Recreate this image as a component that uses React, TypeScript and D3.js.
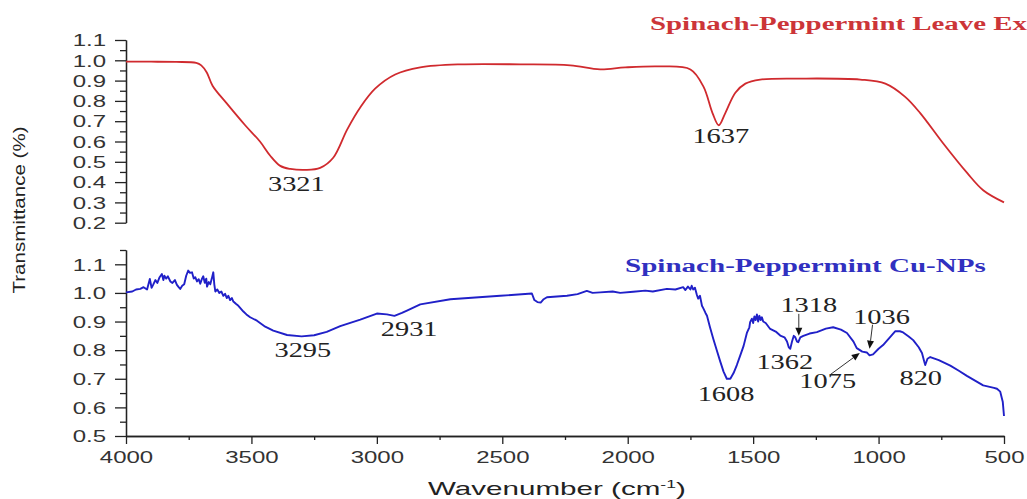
import * as d3 from "d3";
import { useEffect, useRef } from "react";

// red: Spinach-Peppermint leave extract
const redWn = [4000, 3900, 3800, 3720, 3700, 3678, 3655, 3600, 3525, 3466, 3425, 3385, 3345, 3285, 3226, 3174, 3118, 3065, 3007, 2927, 2827, 2667, 2428, 2229, 2110, 2010, 1870, 1750, 1698, 1662, 1637, 1611, 1571, 1531, 1472, 1312, 1073, 973, 894, 834, 742, 647, 583, 500];
const redT = [0.993, 0.993, 0.992, 0.987, 0.975, 0.94, 0.875, 0.79, 0.68, 0.6, 0.53, 0.48, 0.465, 0.46, 0.47, 0.52, 0.66, 0.77, 0.86, 0.93, 0.965, 0.98, 0.98, 0.975, 0.955, 0.965, 0.97, 0.955, 0.87, 0.74, 0.68, 0.74, 0.84, 0.885, 0.905, 0.91, 0.905, 0.885, 0.82, 0.74, 0.59, 0.445, 0.36, 0.3];

// blue: Spinach-Peppermint Cu-NPs
const blueWn = [4000, 3975, 3960, 3943, 3930, 3916, 3905, 3898, 3891, 3883, 3875, 3866, 3857, 3851, 3847, 3840, 3833, 3823, 3815, 3805, 3797, 3790, 3784, 3776, 3768, 3760, 3752, 3745, 3737, 3730, 3724, 3717, 3710, 3704, 3697, 3692, 3686, 3680, 3677, 3670, 3664, 3658, 3652, 3648, 3644, 3636, 3628, 3620, 3612, 3605, 3598, 3592, 3585, 3578, 3572, 3562, 3552, 3545, 3532, 3520, 3505, 3478, 3445, 3413, 3358, 3300, 3250, 3200, 3146, 3066, 3000, 2960, 2930, 2900, 2880, 2827, 2707, 2508, 2382, 2372, 2360, 2347, 2335, 2322, 2242, 2200, 2163, 2140, 2110, 2060, 2030, 1978, 1930, 1900, 1844, 1810, 1779, 1770, 1760, 1750, 1745, 1739, 1732, 1725, 1719, 1712, 1704, 1698, 1690, 1684, 1672, 1659, 1645, 1631, 1618, 1605, 1591, 1578, 1565, 1552, 1538, 1525, 1515, 1512, 1505, 1500, 1495, 1490, 1485, 1480, 1475, 1470, 1465, 1460, 1450, 1432, 1410, 1392, 1375, 1365, 1358, 1352, 1345, 1338, 1332, 1325, 1320, 1312, 1300, 1275, 1246, 1210, 1181, 1150, 1126, 1100, 1087, 1065, 1047, 1036, 1022, 1000, 982, 955, 934, 915, 902, 880, 862, 840, 827, 818, 814, 805, 794, 760, 714, 680, 648, 583, 540, 528, 515, 505, 500];
const blueT = [1.002, 1.005, 1.012, 1.014, 1.02, 1.012, 1.049, 1.018, 1.03, 1.045, 1.035, 1.055, 1.066, 1.045, 1.06, 1.05, 1.058, 1.04, 1.035, 1.045, 1.028, 1.02, 1.014, 1.025, 1.03, 1.06, 1.078, 1.07, 1.072, 1.05, 1.055, 1.04, 1.048, 1.032, 1.05, 1.058, 1.035, 1.05, 1.022, 1.038, 1.03, 1.05, 1.072, 1.03, 1.005, 1.012, 1.0, 1.005, 0.99, 0.997, 0.982, 0.99, 0.975, 0.982, 0.97, 0.962, 0.955, 0.948, 0.935, 0.925, 0.915, 0.903, 0.882, 0.868, 0.853, 0.848, 0.852, 0.864, 0.884, 0.907, 0.928, 0.925, 0.92, 0.93, 0.938, 0.96, 0.978, 0.99, 0.998, 0.975, 0.968, 0.966, 0.978, 0.985, 0.99, 0.996, 1.007, 1.0, 1.002, 1.005, 1.0, 1.004, 1.008, 1.005, 1.014, 1.012, 1.02, 1.01, 1.022, 1.012, 1.025, 1.012, 1.018, 0.995, 0.98, 0.99, 0.955, 0.945, 0.93, 0.92, 0.88, 0.84, 0.8, 0.76, 0.725, 0.7, 0.7, 0.72, 0.748, 0.78, 0.815, 0.86, 0.88, 0.898, 0.91, 0.895, 0.918, 0.905, 0.925, 0.9, 0.92, 0.905, 0.915, 0.9, 0.895, 0.874, 0.865, 0.851, 0.845, 0.83, 0.81, 0.805, 0.83, 0.85, 0.845, 0.83, 0.828, 0.845, 0.85, 0.858, 0.863, 0.875, 0.88, 0.872, 0.86, 0.83, 0.807, 0.795, 0.792, 0.782, 0.785, 0.805, 0.818, 0.845, 0.866, 0.866, 0.862, 0.848, 0.835, 0.81, 0.79, 0.76, 0.748, 0.77, 0.776, 0.765, 0.746, 0.728, 0.71, 0.677, 0.668, 0.665, 0.655, 0.62, 0.57];

const xTicks = [4000, 3500, 3000, 2500, 2000, 1500, 1000, 500];
const xMinor = [3750, 3250, 2750, 2250, 1750, 1250, 750];
const topTicks = [0.2, 0.3, 0.4, 0.5, 0.6, 0.7, 0.8, 0.9, 1.0, 1.1];
const topMinor = [0.25, 0.35, 0.45, 0.55, 0.65, 0.75, 0.85, 0.95, 1.05];
const botTicks = [0.5, 0.6, 0.7, 0.8, 0.9, 1.0, 1.1];
const botMinor = [0.55, 0.65, 0.75, 0.85, 0.95, 1.05, 1.15];

// peak labels: [text, wavenumber, anchor value, dx, dy]
const redLabels: [string, number, number, number, number][] = [
  ["3321", 3321, 0.46, 0, 21],
  ["1637", 1637, 0.68, 2, 18],
];
const blueLabels: [string, number, number, number, number][] = [
  ["3295", 3295, 0.848, 0, 21],
  ["2931", 2931, 0.92, 15, 20],
  ["1608", 1608, 0.7, 0, 22],
  ["1362", 1362, 0.805, -3, 20],
  ["820", 820, 0.748, -3, 20],
  ["1318", 1318, 0.935, 10, 0],
  ["1036", 1036, 0.89, 12, 0],
  ["1075", 1075, 0.74, -32, 21],
];
// arrows: [wavenumber, tip value, tail dx, tail dy]
const blueArrows: [number, number, number, number][] = [
  [1318, 0.85, 0, -22],
  [1036, 0.805, 3, -24],
  [1075, 0.79, -30, 22],
];

const W = 1027;
const H = 499;
const SX = 1.5;

const App = () => {
  const svgRef = useRef(null);

  useEffect(() => {
    const svg = d3.select(svgRef.current);
    svg.selectAll("*").remove();

    const x = d3.scaleLinear().domain([4000, 500]).range([126, 1004]);
    const yTop = d3.scaleLinear().domain([0.2, 1.1]).range([222.7, 40]);
    const yBot = d3.scaleLinear().domain([0.5, 1.15]).range([436, 250]);

    const axisColor = "#222";
    const sans = "Liberation Sans, Arial, sans-serif";
    const serif = "Liberation Serif, Times New Roman, serif";

    const stretch = (
      g: any,
      px: number,
      py: number,
      str: string,
      size: number,
      family: string,
      color: string,
      anchor = "middle",
      weight = "normal",
      sx = SX
    ) =>
      g
        .append("text")
        .attr("transform", `translate(${px},${py}) scale(${sx},1)`)
        .attr("text-anchor", anchor)
        .attr("font-family", family)
        .attr("font-size", size)
        .attr("font-weight", weight)
        .attr("fill", color)
        .text(str);

    const styleAxis = (g: any) => {
      g.select(".domain").attr("stroke", axisColor).attr("stroke-width", 1.3);
      g.selectAll(".tick line").attr("stroke", axisColor).attr("stroke-width", 1.3);
    };

    // left axes
    const drawY = (y: any, major: number[], minor: number[]) => {
      const gMajor = svg
        .append("g")
        .attr("transform", "translate(126,0)")
        .call(
          d3.axisLeft(y).tickValues(major).tickSize(11).tickSizeOuter(0).tickFormat(d3.format(".1f"))
        );
      styleAxis(gMajor);
      gMajor
        .selectAll(".tick text")
        .attr("font-family", sans)
        .attr("font-size", 16)
        .attr("fill", "#333")
        .attr("x", -20 / SX)
        .attr("dy", "0.36em")
        .attr("transform", `scale(${SX},1)`);
      const gMinor = svg
        .append("g")
        .attr("transform", "translate(126,0)")
        .call(d3.axisLeft(y).tickValues(minor).tickSize(6).tickSizeOuter(0).tickFormat(() => ""));
      styleAxis(gMinor);
    };
    drawY(yTop, topTicks, topMinor);
    drawY(yBot, botTicks, botMinor);

    // bottom axis
    const gx = svg
      .append("g")
      .attr("transform", "translate(0,436)")
      .call(d3.axisBottom(x).tickValues(xTicks).tickSize(8).tickSizeOuter(0).tickFormat(d3.format("d")));
    styleAxis(gx);
    gx.selectAll(".tick text")
      .attr("font-family", sans)
      .attr("font-size", 16)
      .attr("fill", "#333")
      .attr("y", 27)
      .attr("dy", 0)
      .attr("x", 0)
      .attr("transform", `scale(${SX},1)`);
    const gxm = svg
      .append("g")
      .attr("transform", "translate(0,436)")
      .call(d3.axisBottom(x).tickValues(xMinor).tickSize(4).tickSizeOuter(0).tickFormat(() => ""));
    styleAxis(gxm);

    // curves
    const redLine = d3
      .line<number>()
      .x((d) => x(redWn[d]))
      .y((d) => yTop(redT[d]))
      .curve(d3.curveCatmullRom.alpha(0.5));
    svg
      .append("path")
      .attr("d", redLine(d3.range(redWn.length)))
      .attr("fill", "none")
      .attr("stroke", "#d02a2e")
      .attr("stroke-width", 1.8);

    const blueLine = d3
      .line<number>()
      .x((d) => x(blueWn[d]))
      .y((d) => yBot(blueT[d]))
      .curve(d3.curveLinear);
    svg
      .append("path")
      .attr("d", blueLine(d3.range(blueWn.length)))
      .attr("fill", "none")
      .attr("stroke", "#2020c8")
      .attr("stroke-width", 1.9)
      .attr("stroke-linejoin", "round");

    // peak labels
    redLabels.forEach(([t, wn, v, dx, dy]) =>
      stretch(svg, x(wn) + dx, yTop(v) + dy, t, 20, serif, "#222", "middle", "normal", 1.42)
    );
    blueLabels.forEach(([t, wn, v, dx, dy]) =>
      stretch(svg, x(wn) + dx, yBot(v) + dy, t, 20, serif, "#222", "middle", "normal", 1.42)
    );

    // arrows
    blueArrows.forEach(([wn, v, tdx, tdy]) => {
      const tx = x(wn);
      const ty = yBot(v);
      const sx0 = tx + tdx;
      const sy0 = ty + tdy;
      const ang = Math.atan2(ty - sy0, tx - sx0);
      const len = 8;
      const wdt = 3.5;
      const bx = tx - len * Math.cos(ang);
      const by = ty - len * Math.sin(ang);
      svg
        .append("line")
        .attr("x1", sx0)
        .attr("y1", sy0)
        .attr("x2", bx)
        .attr("y2", by)
        .attr("stroke", "#333")
        .attr("stroke-width", 1);
      svg
        .append("path")
        .attr(
          "d",
          `M${tx},${ty}L${bx - wdt * Math.sin(ang)},${by + wdt * Math.cos(ang)}L${bx + wdt * Math.sin(ang)},${by - wdt * Math.cos(ang)}Z`
        )
        .attr("fill", "#111");
    });

    // legends
    stretch(svg, 650, 30, "Spinach-Peppermint Leave Extract", 19, serif, "#cc3538", "start", "bold", 1.52);
    stretch(svg, 625, 272, "Spinach-Peppermint Cu-NPs", 19, serif, "#3030c0", "start", "bold", 1.53);

    // axis titles
    const xt = svg
      .append("text")
      .attr("transform", `translate(428,495) scale(1.6,1)`)
      .attr("font-family", sans)
      .attr("font-size", 18.5)
      .attr("fill", "#222");
    xt.append("tspan").text("Wavenumber (cm");
    xt.append("tspan").attr("font-size", 11).attr("dy", -7).text("-1");
    xt.append("tspan").attr("dy", 7).text(")");

    svg
      .append("text")
      .attr("transform", "translate(25,210) rotate(-90)")
      .attr("text-anchor", "middle")
      .attr("font-family", sans)
      .attr("font-size", 17)
      .attr("textLength", 167)
      .attr("lengthAdjust", "spacingAndGlyphs")
      .attr("fill", "#222")
      .text("Transmittance (%)");
  }, []);

  return (
    <div style={{ position: "absolute", left: 0, top: 0 }}>
      <svg ref={svgRef} width={W} height={H} style={{ display: "block", background: "#fff" }}></svg>
    </div>
  );
};

export default App;
